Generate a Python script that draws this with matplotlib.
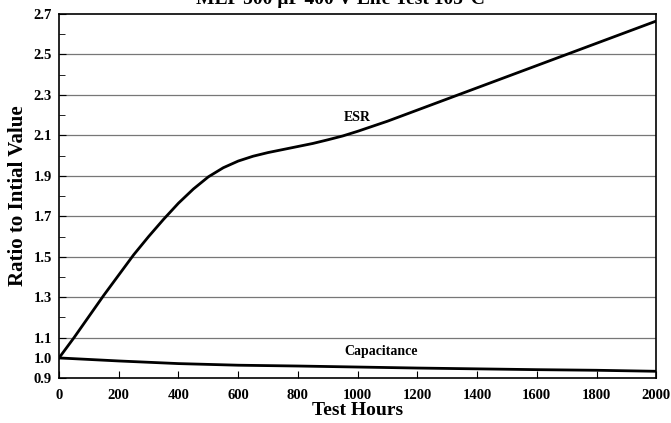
import numpy as np
import matplotlib.pyplot as plt

esr_hours = [0, 50, 100, 150, 200, 250, 300, 350, 400, 450, 500, 550, 600, 650,
             700, 750, 800, 850, 900, 950, 1000, 1100, 1200, 1300, 1400, 1600, 1800, 2000]
esr_ratio = [1.00, 1.10, 1.205, 1.31, 1.41, 1.51, 1.60, 1.685, 1.765, 1.835, 1.895,
             1.94, 1.973, 1.997, 2.015, 2.03, 2.045, 2.06, 2.078, 2.097, 2.12, 2.17,
             2.225, 2.28, 2.335, 2.445, 2.555, 2.665]

cap_hours = [0, 200, 400, 600, 800, 1000, 1200, 1400, 1600, 1800, 2000]
cap_ratio = [1.0, 0.985, 0.972, 0.964, 0.96, 0.955, 0.95, 0.946, 0.942, 0.939, 0.934]

x_ticks = [0, 200, 400, 600, 800, 1000, 1200, 1400, 1600, 1800, 2000]
y_ticks = [0.9, 1.0, 1.1, 1.3, 1.5, 1.7, 1.9, 2.1, 2.3, 2.5, 2.7]
grid_vals = [1.1, 1.3, 1.5, 1.7, 1.9, 2.1, 2.3, 2.5]

plt.rcParams['font.family'] = ['Liberation Serif', 'DejaVu Serif']
plt.rcParams['font.weight'] = 'bold'

fig = plt.figure(figsize=(6.71, 4.23), dpi=100)
ax = fig.add_axes([0.088, 0.106, 0.890, 0.861])

ax.hlines(grid_vals, 0, 2000, color='#777777', linewidth=0.9, zorder=1)

ax.plot(esr_hours, esr_ratio, color='black', linewidth=2, zorder=3)
ax.plot(cap_hours, cap_ratio, color='black', linewidth=2, zorder=3)

ax.text(1000, 2.19, 'ESR', ha='center', va='center', fontsize=10, fontweight='bold')
ax.text(1080, 1.03, 'Capacitance', ha='center', va='center', fontsize=10, fontweight='bold')

ax.set_xlim(0, 2000)
ax.set_ylim(0.9, 2.7)
ax.set_xticks(x_ticks)
ax.set_yticks(y_ticks)
ax.set_yticks(np.arange(0.9, 2.71, 0.1), minor=True)
ax.tick_params(axis='both', which='both', direction='in', labelsize=10.5)
ax.tick_params(axis='x', which='major', length=5, pad=8)
ax.tick_params(axis='y', which='major', length=5, pad=5)
ax.tick_params(axis='y', which='minor', length=4)
for lab in ax.get_xticklabels() + ax.get_yticklabels():
    lab.set_fontweight('bold')

for sp in ax.spines.values():
    sp.set_linewidth(1.2)

ax.set_xlabel('Test Hours', fontsize=14, fontweight='bold', labelpad=0)
ax.set_ylabel('Ratio to Intial Value', fontsize=15, fontweight='bold', labelpad=4)

fig.text(0.507, 1.002, 'MLP 500 µF 400 V Life Test 105°C', ha='center', va='center',
         fontsize=14, fontweight='bold')

fig.savefig('out.png', dpi=100)
